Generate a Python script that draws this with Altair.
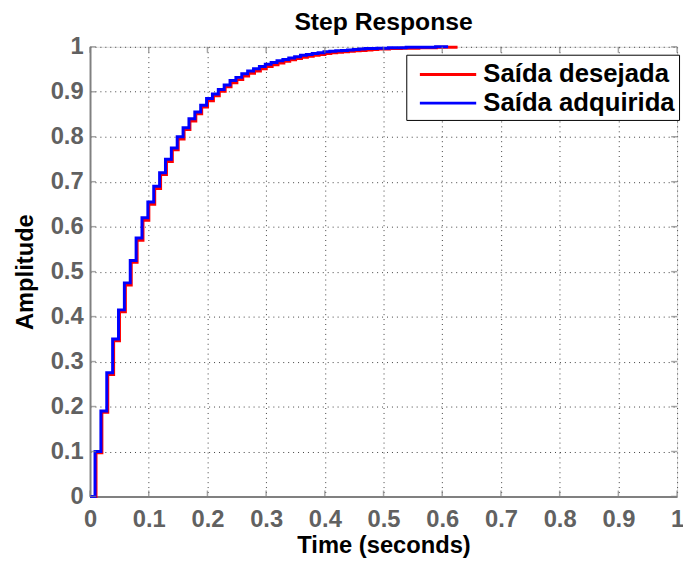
import altair as alt
import pandas as pd

# ---- data ----
tick_values = [0, 0.1, 0.2, 0.3, 0.4, 0.5, 0.6, 0.7, 0.8, 0.9, 1]

# Saída adquirida (blue) step levels, sample period ~0.01 s
blue_values = [0, 0.100, 0.190, 0.275, 0.350, 0.415, 0.475, 0.525, 0.575, 0.620,
               0.655, 0.690, 0.720, 0.750, 0.775, 0.800, 0.820, 0.840, 0.855, 0.870,
               0.885, 0.895, 0.905, 0.915, 0.925, 0.932, 0.940, 0.946, 0.951, 0.956,
               0.961, 0.965, 0.969, 0.972, 0.975, 0.978, 0.981, 0.983, 0.985, 0.987,
               0.989, 0.990, 0.991, 0.992, 0.993, 0.994, 0.995, 0.996, 0.996, 0.997,
               0.997, 0.998, 0.998, 0.998, 0.999, 0.999, 0.999, 0.999, 0.999, 1.000,
               1.000]
# Saída desejada (red) step levels
red_values = [0, 0.097, 0.187, 0.271, 0.346, 0.411, 0.470, 0.521, 0.570, 0.614,
              0.650, 0.685, 0.716, 0.745, 0.771, 0.795, 0.816, 0.835, 0.851, 0.866,
              0.880, 0.891, 0.901, 0.911, 0.920, 0.927, 0.935, 0.941, 0.946, 0.951,
              0.956, 0.960, 0.964, 0.968, 0.971, 0.974, 0.977, 0.979, 0.981, 0.983,
              0.985, 0.987, 0.988, 0.989, 0.990, 0.991, 0.992, 0.993, 0.994, 0.995,
              0.995, 0.996, 0.996, 0.997, 0.997, 0.997, 0.998, 0.998, 0.998, 0.999,
              0.999, 0.999]
sample_period = 0.01
blue_first_rise = 0.0085
red_first_rise = 0.0102
blue_end = 0.61
red_end = 0.626

series_names = ["Saída desejada", "Saída adquirida"]
series_colors = ["#ff0000", "#0000ff"]


def step_table(values, first, end, name):
    times = [0.0] + [first + sample_period * (k - 1) for k in range(1, len(values))]
    rows = [{"t": t, "y": v, "serie": name} for t, v in zip(times, values)]
    rows.append({"t": end, "y": values[-1], "serie": name})
    return pd.DataFrame(rows)


red_df = step_table(red_values, red_first_rise, red_end, series_names[0])
blue_df = step_table(blue_values, blue_first_rise, blue_end, series_names[1])
ticks_df = pd.DataFrame({"v": tick_values})

W, H = 594, 455
FONT = "Liberation Sans"
AXIS_GRAY = "#808080"
LABEL_GRAY = "#616161"

xscale = alt.Scale(domain=[0, 1], nice=False, zero=False)
yscale = alt.Scale(domain=[0, 1], nice=False, zero=False)

color = alt.Color(
    "serie:N",
    scale=alt.Scale(domain=series_names, range=series_colors),
    legend=alt.Legend(
        title=None,
        orient="none",
        legendX=320,
        legendY=8,
        symbolType="M-1,0H3",
        symbolSize=812,
        symbolStrokeWidth=3,
        symbolOffset=8,
        labelOffset=34,
        labelFont=FONT,
        labelFontSize=26,
        labelFontWeight="bold",
        labelColor="black",
        strokeColor="black",
        fillColor="white",
        padding=4,
        rowPadding=0,
        labelLimit=400,
    ),
)

xaxis = alt.Axis(
    title="Time (seconds)",
    values=tick_values,
    format="~g",
    ticks=False,
    labelFont=FONT,
    labelFontSize=24,
    labelFontWeight="bold",
    labelColor=LABEL_GRAY,
    labelPadding=11,
    labelFlush=False,
    titleFont=FONT,
    titleFontSize=24,
    titleFontWeight="bold",
    titleColor="black",
    titlePadding=3,
    grid=True,
    gridColor="#404040",
    gridDash=[1, 4],
    gridWidth=1,
    domainColor=AXIS_GRAY,
    domainWidth=2,
)
yaxis = alt.Axis(
    title="Amplitude",
    values=tick_values,
    format="~g",
    ticks=False,
    labelFont=FONT,
    labelFontSize=24,
    labelFontWeight="bold",
    labelColor=LABEL_GRAY,
    labelPadding=7,
    titleFont=FONT,
    titleFontSize=24,
    titleFontWeight="bold",
    titleColor="black",
    titlePadding=13,
    grid=True,
    gridColor="#404040",
    gridDash=[1, 4],
    gridWidth=1,
    domainColor=AXIS_GRAY,
    domainWidth=2,
)

red_line = alt.Chart(red_df).mark_line(interpolate="step-after", strokeWidth=3).encode(
    x=alt.X("t:Q", scale=xscale, axis=xaxis),
    y=alt.Y("y:Q", scale=yscale, axis=yaxis),
    color=color,
)
blue_line = alt.Chart(blue_df).mark_line(interpolate="step-after", strokeWidth=3).encode(
    x=alt.X("t:Q", scale=xscale, axis=xaxis),
    y=alt.Y("y:Q", scale=yscale, axis=yaxis),
    color=color,
)

tick_len = 6
bottom_ticks = alt.Chart(ticks_df).mark_tick(
    color=AXIS_GRAY, thickness=1.5, size=tick_len, yOffset=-tick_len / 2
).encode(x=alt.X("v:Q", scale=xscale, axis=xaxis), y=alt.value(H))
top_ticks = alt.Chart(ticks_df).mark_tick(
    color=AXIS_GRAY, thickness=1.5, size=tick_len, yOffset=tick_len / 2
).encode(x=alt.X("v:Q", scale=xscale, axis=xaxis), y=alt.value(0))
left_ticks = alt.Chart(ticks_df).mark_tick(
    color=AXIS_GRAY, thickness=1.5, size=tick_len, xOffset=tick_len / 2
).encode(y=alt.Y("v:Q", scale=yscale, axis=yaxis), x=alt.value(0))
right_ticks = alt.Chart(ticks_df).mark_tick(
    color=AXIS_GRAY, thickness=1.5, size=tick_len, xOffset=-tick_len / 2
).encode(y=alt.Y("v:Q", scale=yscale, axis=yaxis), x=alt.value(W))

chart = (
    alt.layer(red_line, blue_line, bottom_ticks, top_ticks, left_ticks, right_ticks)
    .properties(
        width=W,
        height=H,
        title=alt.TitleParams(
            "Step Response",
            font=FONT,
            fontSize=25,
            fontWeight="bold",
            color="black",
            anchor="middle",
            offset=0,
        ),
        autosize=alt.AutoSizeParams(type="none"),
        padding={"left": 83, "top": 36, "right": 6, "bottom": 60},
    )
    .configure_view(stroke=AXIS_GRAY, strokeWidth=2)
    .configure(background="white")
)

chart.save("out.html", embed_options={"renderer": "svg", "actions": False})
